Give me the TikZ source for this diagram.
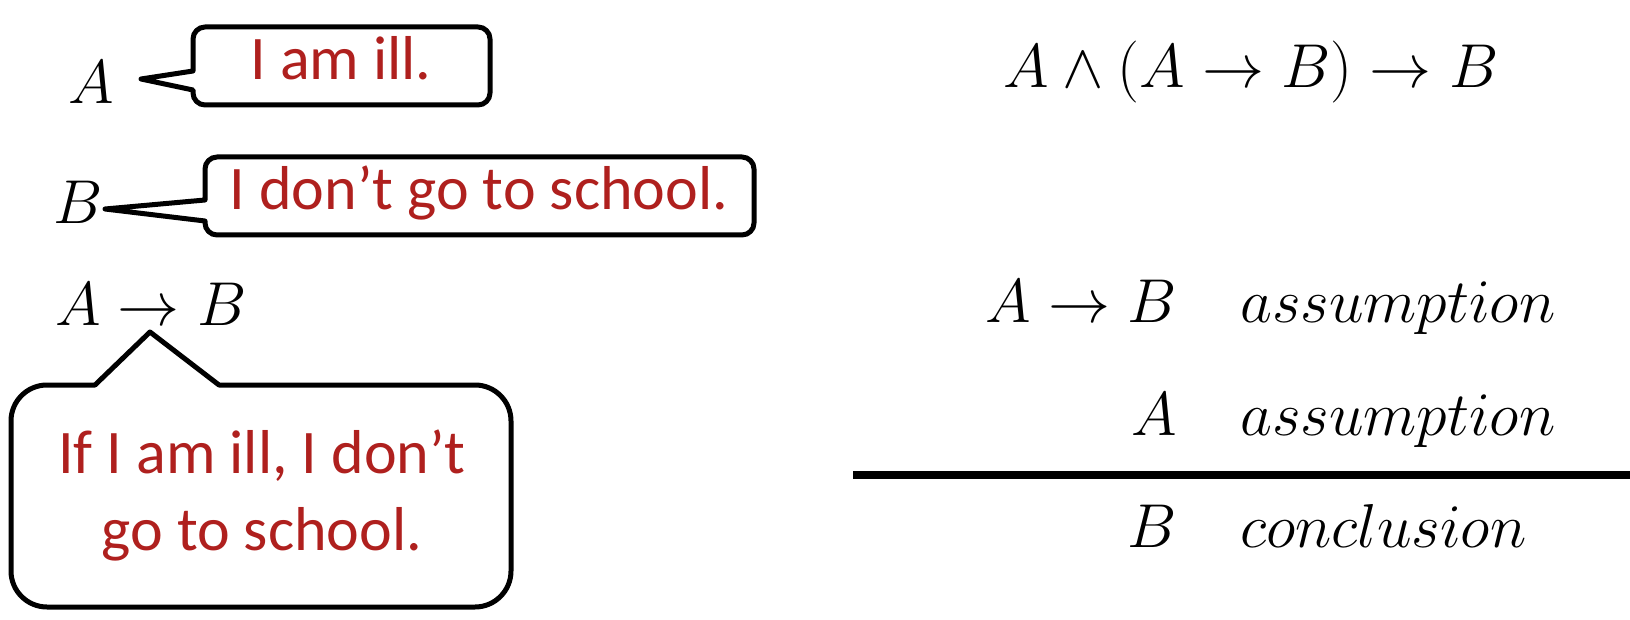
\RequirePackage{fix-cm}
\documentclass[tikz,border=0pt]{standalone}
\usepackage{fontspec}
\newfontfamily\handfont{Carlito}
\definecolor{handred}{RGB}{175,32,30}
\tikzset{
  mathtxt/.style={inner sep=0pt, font=\fontsize{62}{74}\selectfont},
  hand/.style={inner sep=0pt, text=handred, font=\handfont\fontsize{62}{77}\selectfont},
  bubble/.style={draw=black, line width=5pt, fill=white, line join=round},
  ruleline/.style={line width=8pt}
}
\begin{document}
\begin{tikzpicture}[x=1pt,y=-1pt]
\useasboundingbox (0,0) rectangle (1630,620);
% ---- left: propositions
\node[mathtxt, anchor=base west] (a) at (68,104) {$A$};
\node[mathtxt, anchor=base west] (b) at (53,224) {$B$};
\node[mathtxt, anchor=base west] (ab) at (55,325) {$A\to B$};
% ---- bubble 1
\draw[bubble] (141,79) -- (193,90) -- (193,93) arc[start angle=180,end angle=90,radius=12]
  -- (478,105) arc[start angle=90,end angle=0,radius=12]
  -- (490,39) arc[start angle=0,end angle=-90,radius=12]
  -- (205,27) arc[start angle=-90,end angle=-180,radius=12]
  -- (193,71) -- cycle;
\node[hand, anchor=base] (h1) at (341,80) {I am ill.};
% ---- bubble 2
\draw[bubble] (105,209) -- (205,221) -- (205,223) arc[start angle=180,end angle=90,radius=12]
  -- (742,235) arc[start angle=90,end angle=0,radius=12]
  -- (754,169) arc[start angle=0,end angle=-90,radius=12]
  -- (217,157) arc[start angle=-90,end angle=-180,radius=12]
  -- (205,200) -- cycle;
\node[hand, anchor=base] (h2) at (479,210) {I don’t go to school.};
% ---- bubble 3
\draw[bubble] (150,332) -- (219,385) -- (475,385) arc[start angle=-90,end angle=0,radius=36]
  -- (511,571) arc[start angle=0,end angle=90,radius=36]
  -- (47,607) arc[start angle=90,end angle=180,radius=36]
  -- (11,421) arc[start angle=180,end angle=270,radius=36]
  -- (95,385) -- cycle;
\node[hand, anchor=base] (h3a) at (262,473) {If I am ill, I don’t};
\node[hand, anchor=base] (h3b) at (262,550) {go to school.};
% ---- right: formula and inference
\node[mathtxt, anchor=base west] (goal) at (1003,88) {$A\wedge(A\to B)\to B$};
\node[mathtxt, anchor=base east] (p1) at (1177,322) {$A\to B$};
\node[mathtxt, anchor=base west] (l1) at (1240,322) {$assumption$};
\node[mathtxt, anchor=base east] (p2) at (1177,435) {$A$};
\node[mathtxt, anchor=base west] (l2) at (1240,435) {$assumption$};
\coordinate (r0) at (853,475);
\coordinate (r1) at (1630,475);
\draw[ruleline] (r0) -- (r1);
\node[mathtxt, anchor=base east] (p3) at (1177,547) {$B$};
\node[mathtxt, anchor=base west] (l3) at (1240,547) {$conclusion$};
\end{tikzpicture}
\end{document}
